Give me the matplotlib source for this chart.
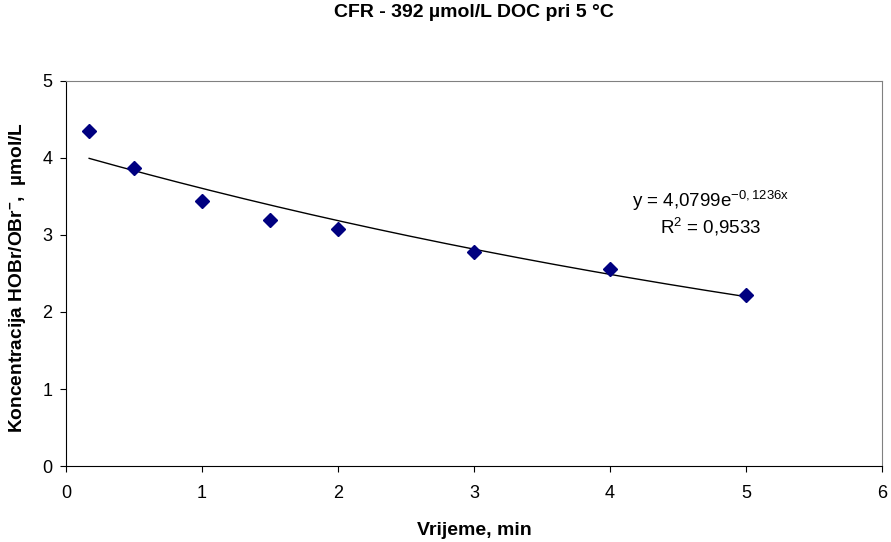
import matplotlib.pyplot as plt
import numpy as np

plt.rcParams['font.family'] = ['Liberation Sans', 'DejaVu Sans']
plt.rcParams['mathtext.fontset'] = 'custom'
plt.rcParams['mathtext.rm'] = 'Liberation Sans'
plt.rcParams['mathtext.it'] = 'Liberation Sans'
plt.rcParams['mathtext.bf'] = 'Liberation Sans:bold'

# measured values
vrijeme = [0.17, 0.5, 1, 1.5, 2, 3, 4, 5]
koncentracija = [4.35, 3.87, 3.44, 3.19, 3.08, 2.78, 2.56, 2.22]

# exponential trendline coefficients (as reported)
fit_a = 4.0799
fit_b = -0.1236
fit_r2 = 0.9533

fig = plt.figure(figsize=(8.91, 5.42), dpi=100)
ax = fig.add_axes([0.0741, 0.1402, 0.9158, 0.7104])

# trendline
xt = np.linspace(min(vrijeme), max(vrijeme), 200)
ax.plot(xt, fit_a * np.exp(fit_b * xt), color='black', lw=1.0, zorder=2)

# data points
ax.plot(vrijeme, koncentracija, linestyle='none', marker='D', markersize=7,
        color='#000080', zorder=3)

ax.set_xlim(0, 6)
ax.set_ylim(0, 5)
ax.set_xticks(range(0, 7))
ax.set_yticks(range(0, 6))
ax.tick_params(direction='out', length=4, labelsize=13, color='black')
ax.tick_params(axis='x', pad=10)
ax.tick_params(axis='y', pad=6)

for s in ['top', 'right']:
    ax.spines[s].set_color('#808080')
for s in ['left', 'bottom']:
    ax.spines[s].set_color('black')

ax.set_title('CFR - 392 µmol/L DOC pri 5 °C', fontsize=14, fontweight='bold', pad=46)
ax.set_xlabel('Vrijeme, min', fontsize=14, fontweight='bold', labelpad=14)
ax.set_ylabel(r'Koncentracija HOBr/OBr$\mathbf{^{-}}$,  µmol/L', fontsize=13.8,
              fontweight='bold', labelpad=8)
ax.yaxis.set_label_coords(-0.047, 0.49)

eq = f'y = {fit_a:.4f}'.replace('.', ',') + r'e$^{' + f'{fit_b:.4f}'.replace('.', ',') + r'\mathrm{x}}$'
ax.text(4.74, 3.36, eq, fontsize=13.5, ha='center', va='baseline')
ax.text(4.74, 3.02, r'R$^2$ = ' + f'{fit_r2:.4f}'.replace('.', ','), fontsize=13.5,
        ha='center', va='baseline')

fig.savefig('out.png', dpi=100)
